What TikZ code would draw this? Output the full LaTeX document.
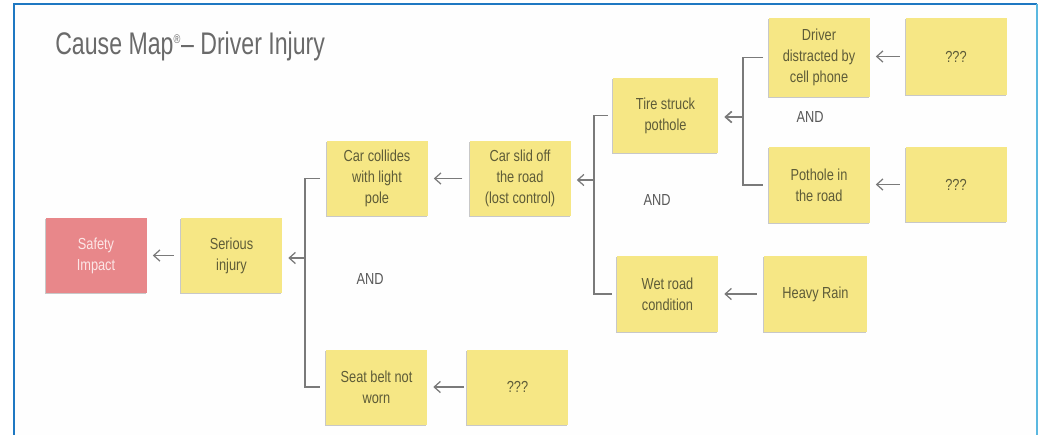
\documentclass[tikz,border=0pt]{standalone}
\usepackage{fontspec}
\setmainfont{Liberation Sans}[FakeStretch=0.8]
\newfontfamily\titlefont{Liberation Sans}[FakeStretch=0.74]
\usetikzlibrary{arrows.meta,calc,shadows}
\definecolor{note}{HTML}{F6E785}
\definecolor{notetext}{HTML}{5E5C38}
\definecolor{safe}{HTML}{E8878A}
\definecolor{safetext}{HTML}{FCE6E6}
\definecolor{con}{HTML}{7A7A7A}
\definecolor{frameL}{HTML}{1E78C2}
\definecolor{frameR}{HTML}{5BB8E0}
\definecolor{titlec}{HTML}{6A6A6A}
\tikzset{
  sticky/.style={fill=note, minimum width=101*0.72pt, minimum height=75*0.72pt,
    inner sep=2pt, align=center, text=notetext,
    font=\fontsize{11.5}{15}\selectfont,
    drop shadow={shadow xshift=-0.6pt, shadow yshift=-1.0pt, fill=black!60, opacity=0.35}},
  redsticky/.style={sticky, fill=safe, text=safetext},
  conline/.style={draw=con, line width=0.9pt},
  arr/.style={conline, -{Straight Barb[length=4.5pt,width=8pt]}, shorten >=4.3pt},
  andlbl/.style={text=black!65, font=\fontsize{11.5}{13}\selectfont},
}
\begin{document}
\begin{tikzpicture}[x=0.72pt,y=-0.72pt]
\useasboundingbox (0,0) rectangle (1039,435);
\fill[white] (0,0) rectangle (1039,435);
\fill[black!0.5] (14,4) rectangle (1037,435);
% frame
\draw[frameL, line width=1.6pt] (14,435) -- (14,4) -- (1037,4);
\draw[frameR, line width=1.5pt] (1037,4) -- (1037,435);
% title
\node[anchor=base west, inner sep=0pt, text=titlec, font=\titlefont\fontsize{22.5}{26}\selectfont] (title) at (55,54) {Cause Map\textsuperscript{\fontsize{9}{9}\selectfont ®}– Driver Injury};
% notes
\node[redsticky] (safety) at (96,255.5) {Safety\\Impact};
\node[sticky] (serious) at (231.5,255.5) {Serious\\injury};
\node[sticky] (carcol) at (377,178.5) {Car collides\\with light\\pole};
\node[sticky] (carslid) at (520,178.5) {Car slid off\\the road\\(lost control)};
\node[sticky, minimum width=105*0.72pt] (tire) at (665.5,115.5) {Tire struck\\pothole};
\node[sticky, minimum height=79*0.72pt] (driver) at (819,57.5) {Driver\\distracted by\\cell phone};
\node[sticky, minimum height=77*0.72pt] (q1) at (956,56.5) {???};
\node[sticky, minimum height=76*0.72pt] (pothole) at (819,185) {Pothole in\\the road};
\node[sticky] (q2) at (956,184.5) {???};
\node[sticky, minimum height=76*0.72pt] (wet) at (667.5,294) {Wet road\\condition};
\node[sticky, minimum width=103*0.72pt, minimum height=76*0.72pt] (rain) at (815.5,294) {Heavy Rain};
\node[sticky] (seat) at (376.5,387) {Seat belt not\\worn};
\node[sticky] (q3) at (517.5,387) {???};
% AND labels
\node[andlbl] (and1) at (370,279) {AND};
\node[andlbl] (and2) at (657,200) {AND};
\node[andlbl] (and3) at (810,117) {AND};
% junctions
\coordinate (j1) at (305,258);
\coordinate (j2) at (594,180);
\coordinate (j3) at (743,117);
% brackets
\draw[conline] ($(carcol.west)+(-6,0)$) -| (j1) |- ($(seat.west)+(-6,0)$);
\draw[conline] ($(tire.west)+(-5,0)$) -| (j2) |- ($(wet.west)+(-5,0)$);
\draw[conline] ($(driver.west)+(-5,0)$) -| (j3) |- ($(pothole.west)+(-5,0)$);
% arrows
\draw[arr] (j1) -- (j1 -| serious.east);
\draw[arr] (j2) -- (j2 -| carslid.east);
\draw[arr, line width=1.2pt] (j3) -- (j3 -| tire.east);
\draw[arr, shorten <=5pt] (serious.west) -- (serious.west -| safety.east);
\draw[arr, shorten <=5pt] (carslid.west) -- (carslid.west -| carcol.east);
\draw[arr, shorten <=4pt] (q1.west) -- (q1.west -| driver.east);
\draw[arr, shorten <=4pt] (q2.west) -- (q2.west -| pothole.east);
\draw[arr, shorten <=5pt] (rain.west) -- (rain.west -| wet.east);
\draw[arr, shorten <=2pt] (q3.west) -- (q3.west -| seat.east);
\end{tikzpicture}
\end{document}
